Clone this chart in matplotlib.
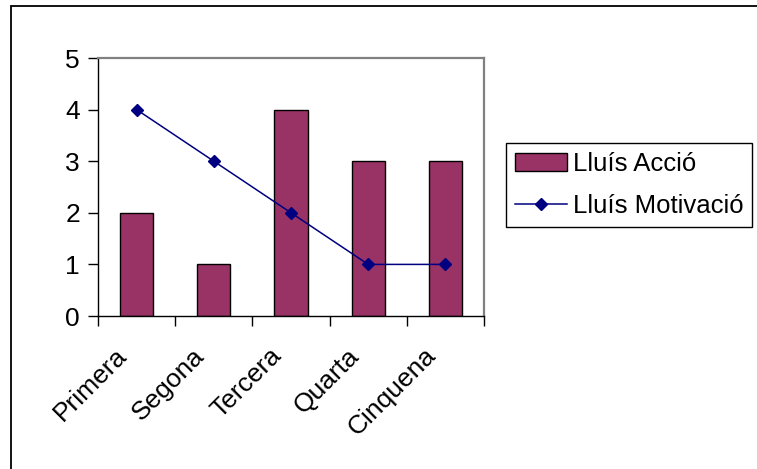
import matplotlib
matplotlib.use("Agg")
import matplotlib.pyplot as plt
from matplotlib.patches import Rectangle
from matplotlib.transforms import ScaledTranslation
import numpy as np

plt.rcParams["font.family"] = ["Liberation Sans", "DejaVu Sans"]

CATEGORIES = ["Primera", "Segona", "Tercera", "Quarta", "Cinquena"]
ACCIO = [2, 1, 4, 3, 3]
MOTIVACIO = [4, 3, 2, 1, 1]
Y_TICKS = [0, 1, 2, 3, 4, 5]

BAR_COLOR = "#993366"
LINE_COLOR = "#000080"
FONT_SIZE = 19

W, H = 757, 469
fig = plt.figure(figsize=(W / 100, H / 100), dpi=100)

# outer chart border (only left/top edges fall inside the image)
fig.patches.append(Rectangle((11 / W, -0.5), 2.0, 1.5 - 6 / H, transform=fig.transFigure,
                             fill=False, edgecolor="black", linewidth=1.3))

ax = fig.add_axes([98 / W, 1 - 316 / H, (484 - 98) / W, (316 - 58) / H])

x = np.arange(len(CATEGORIES))
bars = ax.bar(x, ACCIO, width=0.43, color=BAR_COLOR, edgecolor="black", linewidth=1.0,
              label="Lluís Acció", zorder=2)
line, = ax.plot(x, MOTIVACIO, color=LINE_COLOR, linewidth=1.1, marker="D", markersize=6.5,
                label="Lluís Motivació", zorder=3)

ax.set_xlim(-0.5, len(CATEGORIES) - 0.5)
ax.set_ylim(0, 5)
ax.set_yticks(Y_TICKS)
ax.set_yticklabels([str(v) for v in Y_TICKS], fontsize=FONT_SIZE)

# category ticks sit on the boundaries, labels at the centres
ax.set_xticks(np.arange(len(CATEGORIES) + 1) - 0.5)
ax.set_xticklabels([])
ax.set_xticks(x, minor=True)
ax.set_xticklabels(CATEGORIES, minor=True, rotation=45, ha="right", va="center",
                   rotation_mode="anchor", fontsize=FONT_SIZE)
ax.tick_params(axis="x", which="minor", length=0, pad=0)
for lbl in ax.get_xticklabels(minor=True):
    lbl.set_transform(lbl.get_transform() + ScaledTranslation(-0.13, -0.36, fig.dpi_scale_trans))
ax.tick_params(axis="x", which="major", length=7, width=1, direction="out")
ax.tick_params(axis="y", length=7, width=1, direction="out", pad=6)

for side in ("top", "right"):
    ax.spines[side].set_color("#808080")
    ax.spines[side].set_linewidth(1.6)
for side in ("left", "bottom"):
    ax.spines[side].set_color("black")
    ax.spines[side].set_linewidth(1.0)

leg = fig.legend(handles=[bars, line], loc="upper left",
                 bbox_to_anchor=(506 / W, 1 - 143 / H), borderaxespad=0,
                 fontsize=18.5, frameon=True, fancybox=False, framealpha=1,
                 edgecolor="black", handlelength=2.05, handletextpad=0.2,
                 labelspacing=0.72, borderpad=0.34)
leg.get_frame().set_linewidth(1.0)

fig.savefig("out.png", dpi=100)
